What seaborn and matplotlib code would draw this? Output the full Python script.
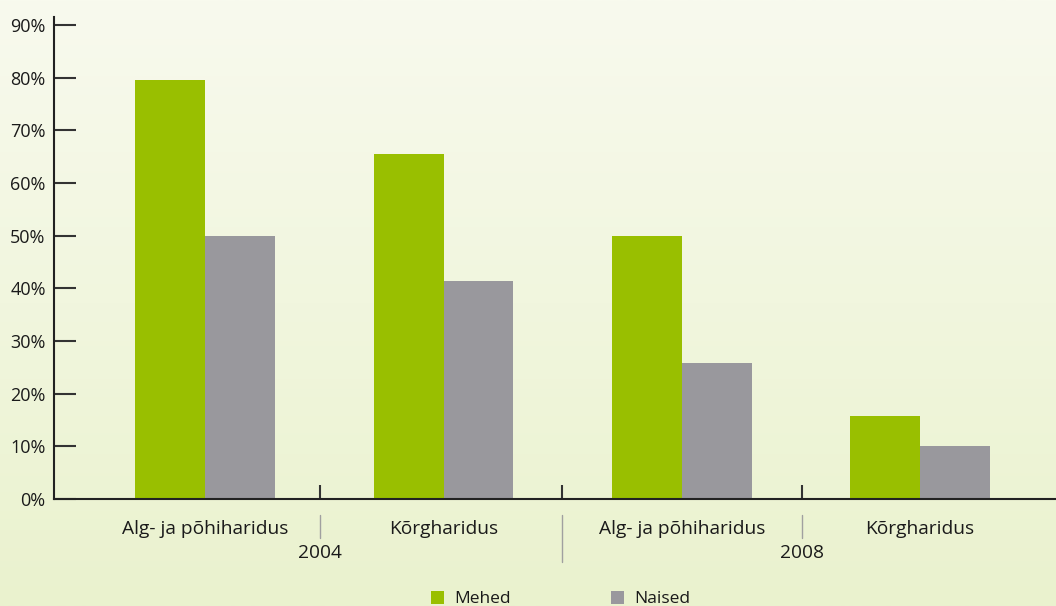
import numpy as np
import pandas as pd
import matplotlib
matplotlib.use("Agg")
import matplotlib.pyplot as plt
import matplotlib.transforms as mtransforms
import seaborn as sns

# data
years = ["2004", "2004", "2008", "2008"]
education = ["Alg- ja põhiharidus", "Kõrgharidus", "Alg- ja põhiharidus", "Kõrgharidus"]
mehed = [79.5, 65.5, 50.0, 15.8]
naised = [50.0, 41.3, 25.8, 10.0]
series_names = ["Mehed", "Naised"]
y_ticks = [0, 10, 20, 30, 40, 50, 60, 70, 80, 90]

green = "#99bf00"
grey = "#99989d"
text_col = "#1a1a1a"

keys = [f"{y} {e}" for y, e in zip(years, education)]
df = pd.DataFrame({
    "group": keys * 2,
    "sex": [series_names[0]] * 4 + [series_names[1]] * 4,
    "share": mehed + naised,
})

sns.set_style("white")
plt.rcParams["font.family"] = ["Open Sans", "DejaVu Sans"]

fig = plt.figure(figsize=(10.56, 6.06), dpi=100)

# soft vertical gradient background
bg = fig.add_axes([0, 0, 1, 1], zorder=-10)
top = np.array([248, 250, 238]) / 255
bot = np.array([234, 242, 206]) / 255
t = np.linspace(0, 1, 256)[:, None]
grad = (top * (1 - t) + bot * t)[:, None, :]
bg.imshow(grad, aspect="auto", extent=[0, 1, 0, 1])
bg.set_axis_off()

ax = fig.add_axes([54 / 1056, 107 / 606, 1 - 54 / 1056, 482 / 606])
ax.set_facecolor("none")

sns.barplot(data=df, x="group", y="share", hue="sex", order=keys,
            hue_order=series_names, palette=[green, grey], width=0.586,
            saturation=1, gap=0, ax=ax, edgecolor="none", linewidth=0)

ax.set_xlim(-0.635, 3.57)
ax.set_ylim(0, 91.5)
ax.set_xlabel("")
ax.set_ylabel("")

for s in ["top", "right"]:
    ax.spines[s].set_visible(False)
for s in ["left", "bottom"]:
    ax.spines[s].set_color("#222222")
    ax.spines[s].set_linewidth(1.5)

ax.set_yticks(y_ticks, [f"{v}%" for v in y_ticks])
ax.tick_params(axis="y", direction="in", length=16, width=1.5, color="#333333",
               pad=6, labelsize=13, labelcolor=text_col, left=True)

dividers = [0.48, 1.495, 2.505]
ax.set_xticks(range(len(keys)), education)
ax.set_xticks(dividers, minor=True)
ax.tick_params(axis="x", which="major", length=0, pad=15, labelsize=13.8,
               labelcolor=text_col)
ax.tick_params(axis="x", which="minor", direction="in", length=10, width=1.5,
               color="#333333", bottom=True)

# separators and year labels below the axis
trans = mtransforms.blended_transform_factory(ax.transData, ax.transAxes)
for xpos, y0 in zip(dividers, [-0.081, -0.131, -0.081]):
    ax.plot([xpos, xpos], [-0.033, y0], transform=trans, color="#a0a0a0",
            linewidth=1, clip_on=False)
for xpos, yr in [(dividers[0], years[0]), (dividers[2], years[2])]:
    ax.text(xpos, -0.112, yr, transform=trans, ha="center", va="center",
            fontsize=13.8, color=text_col)

sns.move_legend(ax, "center", bbox_to_anchor=(561 / 1056, 1 - 599 / 606),
                bbox_transform=fig.transFigure, ncol=2, frameon=False, title=None,
                fontsize=12.5, handlelength=0.75, handleheight=0.75,
                handletextpad=0.6, columnspacing=5.75)
for txt in ax.get_legend().get_texts():
    txt.set_color(text_col)

fig.savefig("out.png", dpi=100)
